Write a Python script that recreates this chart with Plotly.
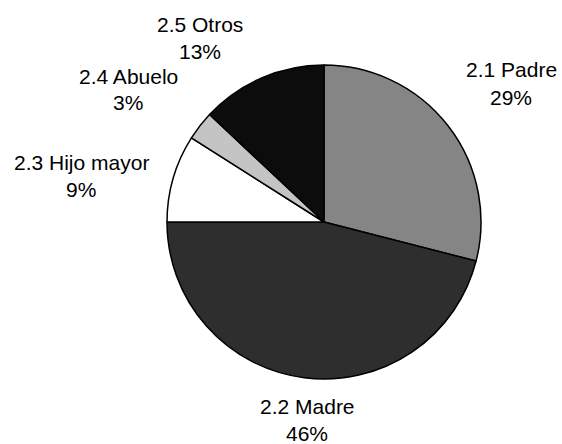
import plotly.graph_objects as go

# Distribución por miembro del hogar
categorias = ["2.1 Padre", "2.2 Madre", "2.3 Hijo mayor", "2.4 Abuelo", "2.5 Otros"]
porcentajes = [29, 46, 9, 3, 13]
colores = ["#858585", "#2e2e2e", "#ffffff", "#c4c4c4", "#0c0c0c"]

W, H = 562, 444
cx, cy, r = 324, 222, 157

fig = go.Figure(
    go.Pie(
        labels=categorias,
        values=porcentajes,
        sort=False,
        direction="clockwise",
        rotation=0,
        textinfo="none",
        hoverinfo="label+percent",
        marker=dict(colors=colores, line=dict(color="#000000", width=1.5)),
        domain=dict(
            x=[(cx - r) / W, (cx + r) / W],
            y=[(H - cy - r) / H, (H - cy + r) / H],
        ),
        showlegend=False,
    )
)

# label placement (pixel centres of the name line; percent line sits below)
posiciones = [(511, 70), (307, 406), (81, 162), (128, 76), (200, 24)]
salto = 27
fuente = dict(family="Liberation Sans, Arial, sans-serif", size=21, color="#000000")

anotaciones = []
for nombre, valor, (px, py) in zip(categorias, porcentajes, posiciones):
    for texto, yy in ((nombre, py), (f"{valor}%", py + salto)):
        anotaciones.append(
            dict(
                text=texto,
                x=px / W,
                y=1 - yy / H,
                xref="paper",
                yref="paper",
                xanchor="center",
                yanchor="middle",
                showarrow=False,
                font=fuente,
            )
        )

fig.update_layout(
    width=W,
    height=H,
    margin=dict(l=0, r=0, t=0, b=0),
    paper_bgcolor="#ffffff",
    plot_bgcolor="#ffffff",
    annotations=anotaciones,
)

fig.write_html("out.html")
